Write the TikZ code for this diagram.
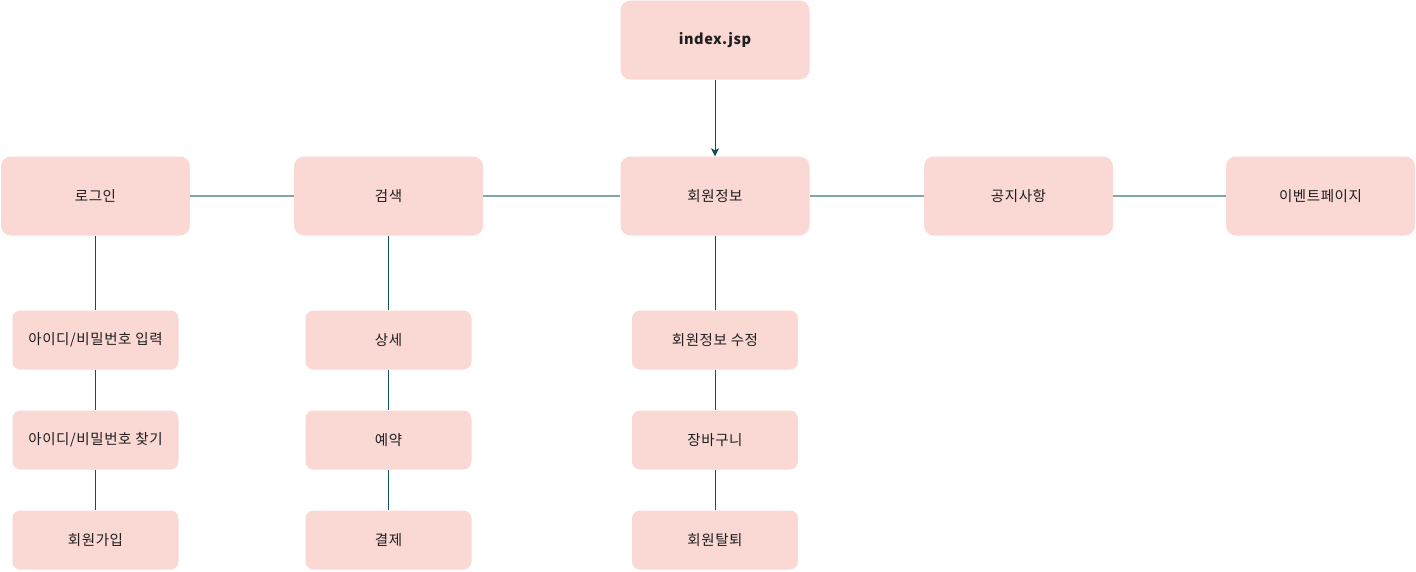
\documentclass[tikz,border=0pt]{standalone}
\usepackage{fontspec}
\setmainfont{Noto Sans CJK KR}[LetterSpace=4]
\usetikzlibrary{arrows.meta}
\definecolor{boxfill}{HTML}{FAD8D3}
\definecolor{hline}{HTML}{7FA7A9}
\definecolor{vline}{HTML}{104E57}
\definecolor{txt}{HTML}{1E1E1E}
\tikzset{
  boxfont/.style={font=\fontsize{14.5pt}{17pt}\selectfont},
  bigbox/.style={fill=boxfill, draw=none, rounded corners=10pt, minimum width=189pt, minimum height=79pt, inner sep=0pt, text=txt, boxfont},
  smallbox/.style={fill=boxfill, draw=none, rounded corners=8pt, minimum width=166pt, minimum height=59pt, inner sep=0pt, text=txt, boxfont},
  hconn/.style={draw=hline, line width=1.6pt},
  vconn/.style={draw=vline, line width=1pt},
}
\begin{document}
\begin{tikzpicture}[x=1pt,y=-1pt]
\useasboundingbox (0,0) rectangle (1416,571);
% top
\node[bigbox, font=\fontsize{14.5pt}{17pt}\selectfont\bfseries] (idx) at (715,40) {index.jsp};
% row 2
\node[bigbox] (login) at (95.5,196) {로그인};
\node[bigbox] (search) at (388.5,196) {검색};
\node[bigbox] (member) at (715,196) {회원정보};
\node[bigbox] (notice) at (1018.5,196) {공지사항};
\node[bigbox] (event) at (1320.5,196) {이벤트페이지};
% column 1
\node[smallbox] (l1) at (95.5,340) {아이디/비밀번호 입력};
\node[smallbox] (l2) at (95.5,440) {아이디/비밀번호 찾기};
\node[smallbox] (l3) at (95.5,540) {회원가입};
% column 2
\node[smallbox] (s1) at (388.5,340) {상세};
\node[smallbox] (s2) at (388.5,440) {예약};
\node[smallbox] (s3) at (388.5,540) {결제};
% column 3
\node[smallbox] (m1) at (715,340) {회원정보 수정};
\node[smallbox] (m2) at (715,440) {장바구니};
\node[smallbox] (m3) at (715,540) {회원탈퇴};
% horizontal connectors
\draw[hconn] (login) -- (search);
\draw[hconn] (search) -- (member);
\draw[hconn] (member) -- (notice);
\draw[hconn] (notice) -- (event);
% vertical connectors
\draw[vconn, -{Stealth[length=8pt,width=8pt,inset=2pt]}] (idx) -- (member);
\draw[vconn] (login) -- (l1);
\draw[vconn] (l1) -- (l2);
\draw[vconn] (l2) -- (l3);
\draw[vconn] (search) -- (s1);
\draw[vconn] (s1) -- (s2);
\draw[vconn] (s2) -- (s3);
\draw[vconn] (member) -- (m1);
\draw[vconn] (m1) -- (m2);
\draw[vconn] (m2) -- (m3);
\end{tikzpicture}
\end{document}
